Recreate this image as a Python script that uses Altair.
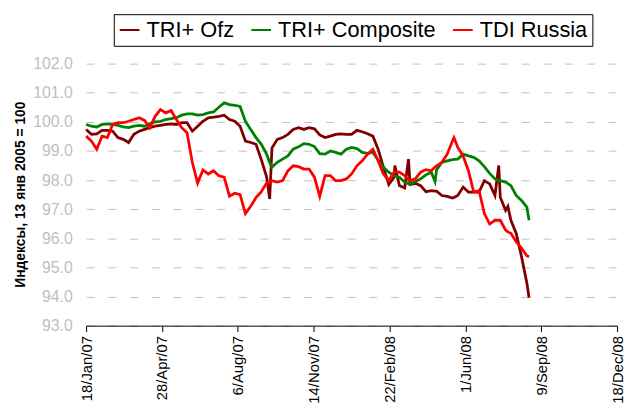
import altair as alt
import pandas as pd

series_names = ["TRI+ Ofz", "TRI+ Composite", "TDI Russia"]
series_colors = ["#800000", "#008000", "#FF0000"]

# day offsets from 18 Jan 2007
days = [0, 7, 14, 21, 28, 35, 42, 49, 56, 63,
        70, 77, 84, 91, 98, 105, 112, 119, 126, 133,
        140, 147, 154, 161, 168, 175, 182, 189, 196, 203,
        210, 217, 224, 231, 238,
        242,
        245, 252, 259, 266, 273,
        280, 287, 294, 301, 308, 315, 322, 329, 336, 343,
        350, 357, 364, 371, 378, 385, 392, 399, 406,
        407,
        413, 420,
        425,
        427, 434, 441, 448, 455,
        460,
        462, 469, 476, 483,
        485,
        490, 497, 504, 511, 518, 525, 532, 539,
        544,
        546, 553,
        556,
        560, 567, 574, 581,
        584]

ofz = [99.74, 99.57, 99.59, 99.71, 99.71, 99.68, 99.46, 99.40, 99.29, 99.57,
       99.68, 99.74, 99.80, 99.85, 99.88, 99.91, 99.93, 99.91, 99.97, 99.97,
       99.68, 99.85, 100.02, 100.14, 100.16, 100.19, 100.23, 100.08, 100.02, 99.85,
       99.34, 99.29, 99.23, 98.70, 98.10,
       97.35,
       99.10, 99.40, 99.46, 99.57, 99.74,
       99.80, 99.74, 99.80, 99.76, 99.55, 99.46, 99.51, 99.57, 99.59, 99.57,
       99.57, 99.71, 99.66, 99.59, 99.51, 99.06, 98.44, 97.85, 98.10,
       98.50,
       97.81, 97.73,
       98.72,
       97.85, 97.89, 97.81, 97.60, 97.64,
       97.62,
       97.62, 97.47, 97.44, 97.38,
       97.40,
       97.47, 97.76, 97.59, 97.59, 97.59, 97.98, 97.87, 97.47,
       98.50,
       97.41, 96.96,
       97.10,
       96.62, 96.17, 95.37, 94.47,
       93.96]

composite = [99.91, 99.85, 99.82, 99.91, 99.93, 99.91, 99.88, 99.83, 99.80, 99.85,
             99.88, 99.85, 99.94, 100.00, 100.02, 100.08, 100.11, 100.14, 100.23, 100.27,
             100.27, 100.23, 100.25, 100.31, 100.34, 100.50, 100.65, 100.59, 100.57, 100.53,
             100.02, 99.74, 99.46, 99.23, 98.89,
             98.60,
             98.44, 98.61, 98.72, 98.83, 99.06,
             99.14, 99.25, 99.23, 99.15, 98.91, 98.89, 99.00, 98.95, 98.89, 99.06,
             99.12, 99.08, 98.95, 98.92, 98.95, 98.69, 98.44, 98.27, 98.15,
             98.14,
             98.10, 97.93,
             97.88,
             97.87, 97.95, 98.04, 98.18, 98.27,
             97.95,
             98.35, 98.61, 98.66, 98.70,
             98.71,
             98.72, 98.89, 98.83, 98.78, 98.66, 98.46, 98.23, 98.04,
             97.98,
             97.98, 97.93,
             97.88,
             97.81, 97.47, 97.30, 97.07,
             96.62]

tdi = [99.51, 99.34, 99.06, 99.51, 99.46, 99.91, 99.97, 99.97, 100.02, 100.08,
       100.14, 100.05, 99.80, 100.19, 100.42, 100.31, 100.39, 100.08, 99.80, 99.63,
       98.61, 97.90, 98.35, 98.21, 98.32, 98.15, 98.10, 97.45, 97.55, 97.50,
       96.85, 97.10, 97.40, 97.60, 97.90,
       97.92,
       97.98, 97.93, 97.98, 98.32, 98.49,
       98.46, 98.38, 98.38, 98.10, 97.44, 98.15, 98.15, 97.98, 97.98, 98.04,
       98.21, 98.49, 98.66, 98.89, 99.06, 98.66, 98.21, 97.98, 98.27,
       98.27,
       98.27, 98.15,
       98.00,
       97.98, 98.04, 98.27, 98.36, 98.32,
       98.45,
       98.49, 98.61, 98.89, 99.34,
       99.46,
       99.12, 98.83, 98.32, 97.59, 97.64, 96.85, 96.49, 96.62,
       96.62,
       96.62, 96.28,
       96.22,
       96.17, 95.88, 95.66, 95.40,
       95.37]

y_ticks = [93, 94, 95, 96, 97, 98, 99, 100, 101, 102]
x_tick_dates = [(2007, 1, 18), (2007, 4, 28), (2007, 8, 6), (2007, 11, 14),
                (2008, 2, 22), (2008, 6, 1), (2008, 9, 9), (2008, 12, 18)]

start = pd.Timestamp("2007-01-18")
dates = [(start + pd.Timedelta(days=d)).strftime("%Y-%m-%d") for d in days]

rows = []
for name, vals in zip(series_names, [ofz, composite, tdi]):
    for dt, v in zip(dates, vals):
        rows.append({"date": dt, "value": v, "series": name})
df = pd.DataFrame(rows)

x_vals = [alt.DateTime(year=y, month=m, date=d, utc=True) for (y, m, d) in x_tick_dates]

x_enc = alt.X(
    "date:T",
    scale=alt.Scale(type="utc", domain=[x_vals[0], x_vals[-1]]),
    axis=alt.Axis(
        values=x_vals,
        labelExpr="utcFormat(datum.value, '%-d/%b/%y')",
        labelAngle=270, labelAlign="right", labelBaseline="middle",
        labelFont="Liberation Sans", labelFontSize=15, labelColor="black",
        labelPadding=4, tickSize=6, tickColor="black", domainColor="black",
        grid=False, title=None, labelOverlap=False,
    ),
)
y_enc = alt.Y(
    "value:Q",
    scale=alt.Scale(domain=[93, 102], nice=False, zero=False),
    axis=alt.Axis(
        values=y_ticks, format=".1f",
        labelFont="Liberation Sans", labelFontSize=16, labelColor="#C0C0C0",
        labelPadding=14, ticks=False, domain=False,
        grid=True, gridColor="#C0C0C0", gridDash=[8, 14], gridWidth=1,
        title="Индексы, 13 янв 2005 = 100",
        titleFont="Liberation Sans", titleFontSize=14, titleFontWeight="bold",
        titleColor="black", titleAngle=270, titleAlign="center",
        titleBaseline="alphabetic", titleX=-62, titleY=132,
    ),
)
color_enc = alt.Color(
    "series:N",
    scale=alt.Scale(domain=series_names, range=series_colors),
    legend=alt.Legend(
        orient="none", legendX=28, legendY=-50, direction="horizontal",
        columns=3, title=None, symbolType="stroke", symbolSize=400,
        symbolStrokeWidth=2, labelFont="Liberation Sans", labelFontSize=22,
        labelColor="black", labelLimit=400, labelOffset=6, columnPadding=13,
        strokeColor="black", fillColor="white", padding=5,
    ),
)

base = alt.Chart(df).mark_line(strokeWidth=2.8).encode(x=x_enc, y=y_enc, color=color_enc)
layers = [base.transform_filter(alt.datum.series == s) for s in series_names]

chart = alt.layer(*layers).properties(
    width=537, height=265,
    autosize=alt.AutoSizeParams(type="none"),
    padding={"left": 79, "top": 54, "right": 8, "bottom": 78},
    background="white",
).configure_view(strokeWidth=0)

chart.save("out.html", embed_options={"renderer": "svg", "actions": False})
